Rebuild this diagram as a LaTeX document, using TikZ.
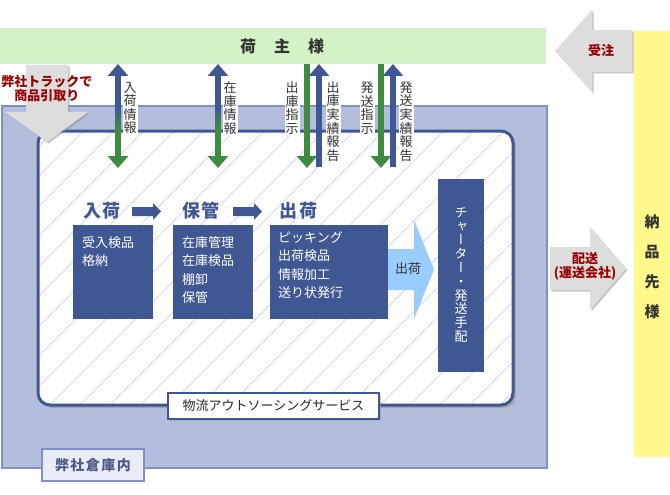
\documentclass[tikz,border=0pt]{standalone}
\usepackage{fontspec}
\setmainfont{Noto Sans CJK JP}
\newfontfamily\vertfont{Noto Sans CJK JP}[RawFeature=+vert]
\usetikzlibrary{arrows.meta,shadows,calc}
\definecolor{bandgreen}{HTML}{D3F3C7}
\definecolor{yellowband}{HTML}{FFF98C}
\definecolor{outerblue}{HTML}{B3BEDD}
\definecolor{outerborder}{HTML}{7F90C8}
\definecolor{navyblue}{HTML}{3F5894}
\definecolor{arrowgreen}{HTML}{3D8C40}
\definecolor{lightarrow}{HTML}{99CCFF}
\definecolor{hatchcol}{HTML}{C8CCF0}
\definecolor{darkred}{HTML}{990000}
\definecolor{textdark}{HTML}{333333}
\definecolor{labelbg}{HTML}{E9ECF6}
\definecolor{labeltext}{HTML}{4A5A8A}
\definecolor{greyarrow}{HTML}{DDDDDD}
\tikzset{
  bluearrow/.style={draw=navyblue,line width=6pt,-{Triangle[width=20pt,length=12pt]}},
  greenarrow/.style={draw=arrowgreen,line width=6pt,-{Triangle[width=20pt,length=12pt]}},
  vlab/.style={fill=white,inner sep=1pt,font=\fontsize{13}{13.6}\selectfont,align=center,text=textdark},
  boxtext/.style={inner sep=0pt,anchor=north west,align=left,text=white,font=\fontsize{13}{18.2}\selectfont},
  stagehead/.style={text=navyblue,font=\fontsize{18}{18}\selectfont\bfseries,inner sep=0pt},
  navybox/.style={fill=navyblue,inner sep=0pt},
  greyblock/.style={fill=greyarrow,drop shadow={shadow xshift=1.5pt,shadow yshift=-1.5pt,fill=black!45}},
  redtext/.style={text=darkred,font=\fontsize{13}{15}\selectfont\bfseries,inner sep=0pt,align=center},
}
\begin{document}
\begin{tikzpicture}[x=1pt,y=-1pt]
\useasboundingbox (0,0) rectangle (670,495);
\fill[white] (0,0) rectangle (670,495);

% top band
\fill[bandgreen] (0,28) rectangle (546,64);
\node[font=\fontsize{16}{16}\selectfont\bfseries,text=textdark,inner sep=0pt] (shipper) at (282,46) {荷\hspace{18pt}主\hspace{18pt}様};

% yellow band
\fill[yellowband] (634,31) rectangle (670,457);
\node[font=\fontsize{15}{30}\selectfont\bfseries,text=textdark,inner sep=0pt,align=center,anchor=north] (dest) at (652,214) {納\\品\\先\\様};

% outer warehouse area
\filldraw[fill=outerblue,draw=outerborder,line width=1.5pt] (2,106) rectangle (547,468);
\node[draw=outerborder,line width=1.5pt,fill=labelbg,minimum width=102pt,minimum height=32pt,inner sep=0pt,text=labeltext,font=\fontsize{14}{14}\selectfont\bfseries] (whlabel) at (93,465) {弊\hspace{1.5pt}社\hspace{1.5pt}倉\hspace{1.5pt}庫\hspace{1.5pt}内};

% inner rounded area
\fill[black!35,rounded corners=12pt] (41,134) rectangle (516,408);
\fill[white,rounded corners=12pt] (38,131) rectangle (513,405);
\begin{scope}
  \clip[rounded corners=12pt] (38,131) rectangle (513,405);
  \foreach \i in {-280,-250,...,520}
    \draw[hatchcol,line width=0.6pt] (\i,405) -- (\i+274,131);
\end{scope}
\draw[navyblue,line width=3pt,rounded corners=12pt] (38,131) rectangle (513,405);
\node[draw=navyblue,line width=2pt,fill=white,minimum width=211pt,minimum height=26pt,inner sep=0pt,
      font=\fontsize{13}{13}\selectfont,text=black!85,drop shadow={shadow xshift=2pt,shadow yshift=-2pt,fill=black!40}] (service) at (273.5,406) {物流アウトソーシングサービス};

% stage headers and arrows
\node[stagehead] (hIn) at (102,211) {入\hspace{2pt}荷};
\node[stagehead] (hStore) at (201,211) {保\hspace{2pt}管};
\node[stagehead] (hOut) at (298,211) {出\hspace{2pt}荷};
\fill[navyblue] (132,207) -- (153,207) -- (153,203) -- (161,211.5) -- (153,220) -- (153,216) -- (132,216) -- cycle;
\fill[navyblue] (233,207) -- (254,207) -- (254,203) -- (262,211.5) -- (254,220) -- (254,216) -- (233,216) -- cycle;

% stage boxes
\node[navybox,minimum width=80pt,minimum height=94pt] (box1) at (113,272) {};
\node[navybox,minimum width=80pt,minimum height=94pt] (box2) at (213,272) {};
\node[navybox,minimum width=118pt,minimum height=94pt] (box3) at (329,272) {};
\node[boxtext] (t1) at (82,236.5) {受入検品\\格納};
\node[boxtext] (t2) at (182,236.5) {在庫管理\\在庫検品\\棚卸\\保管};
\node[boxtext] (t3) at (278,231.5) {ピッキング\\出荷検品\\情報加工\\送り状発行};

% light blue ship arrow
\fill[lightarrow] (388,249) -- (414,249) -- (414,220) -- (434,269.5) -- (414,319) -- (414,290) -- (388,290) -- cycle;
\node[font=\fontsize{13}{13}\selectfont,text=textdark,inner sep=0pt] (shipLbl) at (408,269) {出荷};

% charter box
\node[navybox,minimum width=46pt,minimum height=193pt] (charter) at (461,275.5) {};
\node[inner sep=0pt,text=white,font=\vertfont\fontsize{13}{13.8}\selectfont,align=center] (charterTxt) at (461,275) {チ\\ャ\\ー\\タ\\ー\\・\\発\\送\\手\\配};

% vertical arrows
\coordinate (aTop) at (118,64);
\coordinate (aBot) at (118,168);
\draw[bluearrow] ($(aTop)+(0,44)$) -- (aTop);
\shade[top color=navyblue,middle color=white,bottom color=arrowgreen] ($(aTop)+(-3,44)$) rectangle ($(aTop)+(3,64)$);
\draw[greenarrow] ($(aTop)+(0,64)$) -- (aBot);

\coordinate (bTop) at (218,64);
\coordinate (bBot) at (218,168);
\draw[bluearrow] ($(bTop)+(0,44)$) -- (bTop);
\shade[top color=navyblue,middle color=white,bottom color=arrowgreen] ($(bTop)+(-3,44)$) rectangle ($(bTop)+(3,64)$);
\draw[greenarrow] ($(bTop)+(0,64)$) -- (bBot);

\coordinate (c1Top) at (307,64);
\coordinate (c1Bot) at (307,168);
\draw[greenarrow] (c1Top) -- (c1Bot);
\coordinate (c2Top) at (319,64);
\coordinate (c2Bot) at (319,167);
\draw[bluearrow] (c2Bot) -- (c2Top);

\coordinate (d1Top) at (381,64);
\coordinate (d1Bot) at (381,168);
\draw[greenarrow] (d1Top) -- (d1Bot);
\coordinate (d2Top) at (393,64);
\coordinate (d2Bot) at (393,167);
\draw[bluearrow] (d2Bot) -- (d2Top);

\node[vlab] (lab1) at (130,108) {入\\荷\\情\\報};
\node[vlab] (lab2) at (230,108) {在\\庫\\情\\報};
\node[vlab] (lab3) at (292,108) {出\\庫\\指\\示};
\node[vlab] (lab4) at (333,121.5) {出\\庫\\実\\績\\報\\告};
\node[vlab] (lab5) at (367,108) {発\\送\\指\\示};
\node[vlab] (lab6) at (406,121.5) {発\\送\\実\\績\\報\\告};

% grey block arrows
\path[greyblock] (555,51) -- (592,10) -- (592,30) -- (632,30) -- (632,72) -- (592,72) -- (592,92) -- cycle;
\node[redtext] (order) at (601,50) {受注};

\path[greyblock] (26,65) -- (68,65) -- (68,112) -- (88,112) -- (47,142) -- (5,112) -- (26,112) -- cycle;
\node[redtext] (pickup) at (47,88.5) {弊社トラックで\\[-1pt]商品引取り};

\path[greyblock] (550,247) -- (590,247) -- (590,227) -- (626,268.5) -- (590,310) -- (590,290) -- (550,290) -- cycle;
\node[redtext] (deliver) at (585,266.5) {配送\\[-1pt](運送会社)};

\end{tikzpicture}
\end{document}
